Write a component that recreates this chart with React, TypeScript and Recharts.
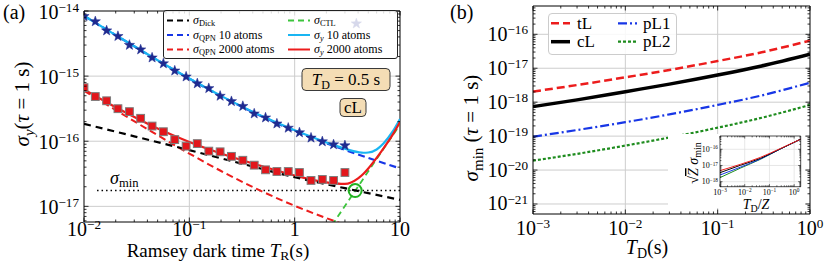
import React from "react";
import {
  ComposedChart,
  Line,
  Scatter,
  XAxis,
  YAxis,
  CartesianGrid,
  ReferenceLine,
  ReferenceDot,
  Legend,
  Customized,
} from "recharts";

const SERIF = '"Liberation Serif", "DejaVu Serif", "Times New Roman", serif';

// ---------------- Panel (a) data ----------------
const dickT = [0.01, 0.03, 0.1, 0.3, 1, 3, 10];
const dickSigma = [1.85e-16, 1.19e-16, 7.3e-17, 4.62e-17, 2.8e-17, 1.9e-17, 1.26e-17];

const qpnT = [0.01, 0.02, 0.05, 0.1, 0.2, 0.5, 1, 2, 3, 5, 10];
const qpn10Sigma = [8.43e-15, 4.26e-15, 1.75e-15, 9.14e-16, 4.94e-16, 2.36e-16, 1.445e-16, 9.33e-17, 7.36e-17, 5.53e-17, 3.82e-17];
const qpn2000Sigma = [5.96e-16, 3.01e-16, 1.237e-16, 6.46e-17, 3.49e-17, 1.67e-17, 1.02e-17, 6.6e-18, 5.2e-18, 3.9e-18, 2.7e-18];

const ctlT = [2, 3, 4, 5, 6, 7, 8.5, 10];
const ctlSigma = [3.85e-18, 1.01e-17, 2.02e-17, 3.45e-17, 5.33e-17, 7.71e-17, 1.22e-16, 1.8e-16];

const syT = [0.01, 0.02, 0.05, 0.1, 0.2, 0.5, 1, 2, 3, 4, 4.5, 5, 6, 7, 8.5, 10];
const sy10Sigma = [8.43e-15, 4.26e-15, 1.753e-15, 9.17e-16, 4.97e-16, 2.39e-16, 1.472e-16, 9.59e-17, 7.67e-17, 6.8e-17, 6.65e-17, 6.71e-17, 7.47e-17, 9.3e-17, 1.4e-16, 2.2e-16];
const sy2000Sigma = [6.24e-16, 3.32e-16, 1.569e-16, 9.75e-17, 6.49e-17, 4.1e-17, 2.98e-17, 2.33e-17, 2.21e-17, 2.69e-17, 3.17e-17, 3.82e-17, 5.55e-17, 7.84e-17, 1.25e-16, 1.97e-16];

const minSigmaT = [0.0133, 10];
const minSigma = [1.75e-17, 1.75e-17];
const crossT = 3.75;
const crossSigma = 1.75e-17;

const measT = [0.01, 0.0128, 0.0164, 0.021, 0.027, 0.0345, 0.0443, 0.0567, 0.0727, 0.0932, 0.119, 0.153, 0.196, 0.251, 0.322, 0.413, 0.529, 0.678, 0.869, 1.11, 1.43, 1.83, 2.34, 3.0, 3.85];
const meas10 = [8.3e-15, 6.9e-15, 5.0e-15, 4.1e-15, 3.0e-15, 2.55e-15, 1.92e-15, 1.56e-15, 1.21e-15, 9.8e-16, 7.7e-16, 6.5e-16, 4.95e-16, 4.1e-16, 3.45e-16, 2.65e-16, 2.3e-16, 1.86e-16, 1.6e-16, 1.36e-16, 1.13e-16, 9.9e-17, 8.9e-17, 8.6e-17, 6.4e-15];
const meas2000 = [6.65e-16, 4.86e-16, 4.18e-16, 3.16e-16, 2.85e-16, 2.25e-16, 1.71e-16, 1.4e-16, 1.06e-16, 8.4e-17, 9.2e-17, 7.05e-17, 6.88e-17, 5.86e-17, 5.1e-17, 4.29e-17, 3.64e-17, 3.43e-17, 3.43e-17, 3.31e-17, 2.5e-17, 2.59e-17, 2.5e-17, 3.31e-17];

// ---------------- Panel (b) data ----------------
const tdT = [0.001, 0.003, 0.01, 0.03, 0.1, 0.3, 1];
const tLSigma = [2.05e-18, 3.2e-18, 5.4e-18, 8.9e-18, 1.63e-17, 2.95e-17, 6.5e-17];
const cLSigma = [7.4e-19, 1.17e-18, 2.04e-18, 3.4e-18, 6.3e-18, 1.17e-17, 2.6e-17];
const pL1Sigma = [9.6e-20, 1.51e-19, 2.57e-19, 4.37e-19, 8.3e-19, 1.58e-18, 3.75e-18];
const pL2Sigma = [1.89e-20, 3.0e-20, 5.25e-20, 9.1e-20, 1.77e-19, 3.47e-19, 8.3e-19];

// inset
const insetT = [0.001, 0.0066, 0.043, 0.28, 1.84];
const insetTL = [4.8e-18, 1.17e-17, 3.16e-17, 1.12e-16, 4.2e-16];
const insetCL = [3.6e-18, 1.02e-17, 2.75e-17, 1.07e-16, 4.2e-16];
const insetPL1 = [2.57e-18, 7.8e-18, 2.5e-17, 1.05e-16, 4.2e-16];
const insetPL2 = [1.78e-18, 6.8e-18, 2.4e-17, 1.05e-16, 4.2e-16];

// ---------------- tick labels ----------------
const xMajorA = [0.01, 0.1, 1, 10];
const xLabelA = ["10^\u22122", "10^\u22121", "1", "10"];
const yMajorA = [1e-17, 1e-16, 1e-15, 1e-14];
const yLabelA = ["10^\u221217", "10^\u221216", "10^\u221215", "10^\u221214"];
const xMajorB = [1e-3, 1e-2, 1e-1, 1];
const xLabelB = ["10^\u22123", "10^\u22122", "10^\u22121", "10^0"];
const yMajorB = [1e-21, 1e-20, 1e-19, 1e-18, 1e-17, 1e-16];
const yLabelB = ["10^\u221221", "10^\u221220", "10^\u221219", "10^\u221218", "10^\u221217", "10^\u221216"];
const yMajorI = [1e-18, 1e-17, 1e-16];
const yLabelI = ["10^\u221218", "10^\u221217", "10^\u221216"];

// ---------------- helpers ----------------
const toPts = (xs: number[], ys: number[]) => xs.map((x, i) => ({ x, y: ys[i] }));

function logTicks(lo: number, hi: number): number[] {
  const out: number[] = [];
  for (let e = Math.floor(Math.log10(lo)) - 1; e <= Math.ceil(Math.log10(hi)); e++) {
    for (let m = 1; m < 10; m++) {
      const v = Number((m * Math.pow(10, e)).toPrecision(6));
      if (v >= lo * 0.9999 && v <= hi * 1.0001) out.push(v);
    }
  }
  return out;
}
const isDecade = (v: number) => Math.abs(Math.log10(v) - Math.round(Math.log10(v))) < 1e-6;
const findLabel = (v: number, majors: number[], labels: string[]) => {
  const i = majors.findIndex((m) => Math.abs(m - v) <= m * 1e-6);
  return i >= 0 ? labels[i] : null;
};

const PowLabel = ({ x, y, text, size, anchor }: any) => {
  const parts = text.split("^");
  return (
    <text x={x} y={y} textAnchor={anchor} fontFamily={SERIF} fontSize={size} fill="#000">
      <tspan>{parts[0]}</tspan>
      {parts.length > 1 && (
        <tspan dy={-size * 0.34} fontSize={size * 0.66}>
          {parts[1]}
        </tspan>
      )}
    </text>
  );
};

type Frame = { left: number; right: number; top: number; bottom: number };

function makeXTick(majors: number[], labels: string[], f: Frame, fs: number, dy: number, maj: number, min: number, sw = 0.8) {
  return (p: any) => {
    const x = p.x;
    const v = p.payload.value;
    const lab = findLabel(v, majors, labels);
    const len = isDecade(v) ? maj : min;
    return (
      <g>
        <line x1={x} x2={x} y1={f.bottom} y2={f.bottom - len} stroke="#000" strokeWidth={sw} />
        <line x1={x} x2={x} y1={f.top} y2={f.top + len} stroke="#000" strokeWidth={sw} />
        {lab && <PowLabel x={x} y={f.bottom + dy} text={lab} size={fs} anchor="middle" />}
      </g>
    );
  };
}

function makeYTick(majors: number[], labels: string[], f: Frame, fs: number, dx: number, dy: number, maj: number, min: number, sw = 0.8) {
  return (p: any) => {
    const y = p.y;
    const v = p.payload.value;
    const lab = findLabel(v, majors, labels);
    const len = isDecade(v) ? maj : min;
    return (
      <g>
        <line x1={f.left} x2={f.left + len} y1={y} y2={y} stroke="#000" strokeWidth={sw} />
        <line x1={f.right} x2={f.right - len} y1={y} y2={y} stroke="#000" strokeWidth={sw} />
        {lab && <PowLabel x={f.left - dx} y={y + dy} text={lab} size={fs} anchor="end" />}
      </g>
    );
  };
}

const starPoints = (cx: number, cy: number, R: number, r: number) => {
  let s = "";
  for (let k = 0; k < 10; k++) {
    const a = ((-90 + k * 36) * Math.PI) / 180;
    const rad = k % 2 === 0 ? R : r;
    s += `${(cx + rad * Math.cos(a)).toFixed(2)},${(cy + rad * Math.sin(a)).toFixed(2)} `;
  }
  return s;
};
const StarShape = (p: any) => <polygon points={starPoints(p.cx, p.cy, 5.4, 2.2)} fill="#1f2a8f" stroke="#1f2a8f" strokeWidth={0.5} />;
const SquareShape = (p: any) => <rect x={p.cx - 3.9} y={p.cy - 3.9} width={7.8} height={7.8} fill="#e3161b" stroke="#7d7d7d" strokeWidth={1} />;

// colors
const RED = "#ec1c1c";
const BLUE = "#1736e6";
const CYAN = "#19b5f2";
const LIME = "#3cc43c";
const GREEN = "#1e8c1e";

// sigma with subscript followed by rest of text
const SigText = ({ x, y, sub, rest, size, italicSub, anchor }: any) => {
  const d = size * 0.18;
  return (
    <text x={x} y={y} fontFamily={SERIF} fontSize={size} fill="#000" textAnchor={anchor || "start"}>
      <tspan fontStyle="italic">σ</tspan>
      <tspan fontSize={size * 0.7} dy={d} fontStyle={italicSub ? "italic" : "normal"}>
        {sub}
      </tspan>
      {rest ? <tspan dy={-d}>{rest}</tspan> : null}
    </text>
  );
};

// ---------------- Panel (a) ----------------
const FA: Frame = { left: 84, right: 400, top: 11, bottom: 222 };
const xTicksA = logTicks(0.01, 10);
const yTicksA = logTicks(5.75e-18, 1e-14);
const xTickA = makeXTick(xMajorA, xLabelA, FA, 20, 13.5, 4.5, 2.5);
const yTickA = makeYTick(yMajorA, yLabelA, FA, 20, 5, 7.5, 4.5, 2.5);

const LegendA = () => {
  const fs = 12;
  const rows = [9.5, 24, 38.5];
  const col1 = [
    { c: "#000", d: "6 4", sub: "Dick", it: false, rest: "" },
    { c: BLUE, d: "6 4", sub: "QPN", it: false, rest: " 10 atoms" },
    { c: RED, d: "6 4", sub: "QPN", it: false, rest: " 2000 atoms" },
  ];
  const col2 = [
    { c: LIME, d: "6 4", sub: "CTL", it: false, rest: "" },
    { c: CYAN, d: "", sub: "y", it: true, rest: " 10 atoms" },
    { c: RED, d: "", sub: "y", it: true, rest: " 2000 atoms" },
  ];
  return (
    <div
      style={{
        width: 235,
        height: 49,
        boxSizing: "border-box",
        background: "rgba(255,255,255,0.82)",
        border: "1px solid #222",
        borderRadius: 3,
      }}
    >
      <svg width={233} height={47} style={{ display: "block" }}>
        {col1.map((e, i) => (
          <g key={"a" + i}>
            <line x1={3} x2={25} y1={rows[i]} y2={rows[i]} stroke={e.c} strokeWidth={2} strokeDasharray={e.d} />
            <SigText x={29} y={rows[i] + 3.5} sub={e.sub} rest={e.rest} size={fs} italicSub={e.it} />
          </g>
        ))}
        {col2.map((e, i) => (
          <g key={"b" + i}>
            <line x1={124} x2={146} y1={rows[i]} y2={rows[i]} stroke={e.c} strokeWidth={2} strokeDasharray={e.d || undefined} />
            <SigText x={150} y={rows[i] + 3.5} sub={e.sub} rest={e.rest} size={fs} italicSub={e.it} />
          </g>
        ))}
      </svg>
    </div>
  );
};

const AnnotA = () => (
  <g fontFamily={SERIF} fill="#000">
    <text x={3} y={19} fontSize={20} fontFamily={SERIF}>
      (a)
    </text>
    <SigText x={110} y={184} sub="min" rest="" size={18} italicSub={false} />
    <rect x={302} y={68.5} width={88} height={22} rx={4} fill="#f4ddb5" stroke="#3a3a3a" strokeWidth={1} />
    <text x={346} y={85} fontSize={17} textAnchor="middle" fontFamily={SERIF}>
      <tspan fontStyle="italic">T</tspan>
      <tspan fontSize={12} dy={4}>D</tspan>
      <tspan dy={-4}>{" = 0.5 s"}</tspan>
    </text>
    <rect x={340} y={98.5} width={26} height={18} rx={4} fill="#f4ddb5" stroke="#3a3a3a" strokeWidth={1} />
    <text x={353} y={113} fontSize={17} textAnchor="middle" fontFamily={SERIF}>
      cL
    </text>
    <text x={218} y={257} fontSize={19} textAnchor="middle" fontFamily={SERIF}>
      <tspan>{"Ramsey dark time "}</tspan>
      <tspan fontStyle="italic">T</tspan>
      <tspan fontSize={13.5} dy={2.5}>R</tspan>
      <tspan dy={-2.5}>(s)</tspan>
    </text>
    <text transform="translate(29,104) rotate(-90)" fontSize={21} textAnchor="middle" fontFamily={SERIF}>
      <tspan fontStyle="italic">σ</tspan>
      <tspan fontSize={15} dy={5} fontStyle="italic">y</tspan>
      <tspan dy={-5}>(</tspan>
      <tspan fontStyle="italic">τ</tspan>
      <tspan>{" = 1 s)"}</tspan>
    </text>
  </g>
);

function PanelA() {
  return (
    <ComposedChart width={410} height={261} margin={{ top: 11, right: 10, bottom: 9, left: 24 }}>
      <CartesianGrid
        horizontalValues={[1e-17, 1e-16, 1e-15]}
        verticalValues={[0.1, 1]}
        stroke="#cdcdcd"
        strokeWidth={1}
      />
      <XAxis
        type="number"
        dataKey="x"
        scale="log"
        domain={[0.01, 10]}
        allowDataOverflow
        ticks={xTicksA}
        interval={0}
        height={30}
        tickLine={false}
        tickSize={0}
        tickMargin={0}
        axisLine={{ stroke: "#000", strokeWidth: 1 }}
        tick={xTickA}
      />
      <YAxis
        type="number"
        dataKey="y"
        scale="log"
        domain={[5.75e-18, 1e-14]}
        allowDataOverflow
        ticks={yTicksA}
        interval={0}
        width={60}
        tickLine={false}
        tickSize={0}
        tickMargin={0}
        axisLine={{ stroke: "#000", strokeWidth: 1 }}
        tick={yTickA}
      />
      <ReferenceLine y={1e-14} stroke="#000" strokeWidth={1} ifOverflow="visible" />
      <ReferenceLine x={10} stroke="#000" strokeWidth={1} ifOverflow="visible" />
      <Line data={toPts(minSigmaT, minSigma)} dataKey="y" type="linear" stroke="#000" strokeWidth={1.5} strokeDasharray="1.5 3" dot={false} isAnimationActive={false} />
      <Line data={toPts(qpnT, qpn10Sigma)} dataKey="y" type="monotone" stroke={BLUE} strokeWidth={2.2} strokeDasharray="7 4" dot={false} isAnimationActive={false} />
      <Line data={toPts(qpnT, qpn2000Sigma)} dataKey="y" type="monotone" stroke={RED} strokeWidth={2} strokeDasharray="7 4" dot={false} isAnimationActive={false} />
      <Line data={toPts(ctlT, ctlSigma)} dataKey="y" type="monotone" stroke={LIME} strokeWidth={1.8} strokeDasharray="6 4" dot={false} isAnimationActive={false} />
      <Line data={toPts(syT, sy10Sigma)} dataKey="y" type="monotone" stroke={CYAN} strokeWidth={2.2} dot={false} isAnimationActive={false} />
      <Line data={toPts(syT, sy2000Sigma)} dataKey="y" type="monotone" stroke={RED} strokeWidth={2.2} dot={false} isAnimationActive={false} />
      <Line data={toPts(dickT, dickSigma)} dataKey="y" type="monotone" stroke="#000" strokeWidth={2.2} strokeDasharray="7 5" dot={false} isAnimationActive={false} />
      <Scatter data={toPts(measT, meas10)} dataKey="y" shape={StarShape} isAnimationActive={false} />
      <Scatter data={toPts(measT.slice(0, meas2000.length), meas2000)} dataKey="y" shape={SquareShape} isAnimationActive={false} />
      <ReferenceDot x={crossT} y={crossSigma} r={6.5} fill="none" stroke="#22b322" strokeWidth={2} />
      <Customized component={AnnotA} />
      <Legend
        content={() => <LegendA />}
        layout="horizontal"
        verticalAlign="middle"
        align="center"
        wrapperStyle={{ left: 163, top: 10, width: 235, height: 49 }}
      />
    </ComposedChart>
  );
}

// ---------------- Panel (b) ----------------
const FB: Frame = { left: 123, right: 400, top: 6, bottom: 214 };
const yDomB: [number, number] = [5.07e-22, 6.82e-16];
const xTicksB = logTicks(1e-3, 1);
const yTicksB = logTicks(yDomB[0], yDomB[1]);
const xTickB = makeXTick(xMajorB, xLabelB, FB, 20, 21, 4.5, 2.5);
const yTickB = makeYTick(yMajorB, yLabelB, FB, 20, 5, 6.5, 4.5, 2.5);

const LegendB = () => {
  const fs = 17;
  const rows = [9.3, 27.7];
  const items = [
    { c: RED, d: "8 4", w: 2.5, t: "tL", lx: 2, tx: 28, r: 0 },
    { c: "#000", d: "", w: 3.5, t: "cL", lx: 2, tx: 28, r: 1 },
    { c: BLUE, d: "9 3 2 3", w: 2.2, t: "pL1", lx: 69, tx: 94, r: 0 },
    { c: GREEN, d: "3 2", w: 2.2, t: "pL2", lx: 69, tx: 94, r: 1 },
  ];
  return (
    <div
      style={{
        width: 129,
        height: 42,
        boxSizing: "border-box",
        background: "rgba(255,255,255,0.85)",
        border: "1px solid #cccccc",
        borderRadius: 4,
      }}
    >
      <svg width={127} height={40} style={{ display: "block" }}>
        {items.map((e, i) => (
          <g key={i}>
            <line x1={e.lx} x2={e.lx + 19} y1={rows[e.r]} y2={rows[e.r]} stroke={e.c} strokeWidth={e.w} strokeDasharray={e.d || undefined} />
            <text x={e.tx} y={rows[e.r] + 5.5} fontFamily={SERIF} fontSize={fs} fill="#000">
              {e.t}
            </text>
          </g>
        ))}
      </svg>
    </div>
  );
};

const AnnotB = () => (
  <g fontFamily={SERIF} fill="#000">
    <text x={40} y={19} fontSize={20} fontFamily={SERIF}>
      (b)
    </text>
    <text x={237} y={254} fontSize={20} textAnchor="middle" fontFamily={SERIF}>
      <tspan fontStyle="italic">T</tspan>
      <tspan fontSize={14} dy={4}>D</tspan>
      <tspan dy={-4}>(s)</tspan>
    </text>
    <text transform="translate(68,128) rotate(-90)" fontSize={21} textAnchor="middle" fontFamily={SERIF}>
      <tspan fontStyle="italic">σ</tspan>
      <tspan fontSize={15} dy={5}>min</tspan>
      <tspan dy={-5}>{" ("}</tspan>
      <tspan fontStyle="italic">τ</tspan>
      <tspan>{" = 1 s)"}</tspan>
    </text>
  </g>
);

function PanelB() {
  return (
    <ComposedChart width={420} height={261} margin={{ top: 6, right: 20, bottom: 17, left: 48 }}>
      <CartesianGrid
        horizontalValues={[1e-21, 1e-20, 1e-19, 1e-18, 1e-17, 1e-16]}
        verticalValues={[1e-2, 1e-1]}
        stroke="#cdcdcd"
        strokeWidth={1}
      />
      <XAxis
        type="number"
        dataKey="x"
        scale="log"
        domain={[1e-3, 1]}
        allowDataOverflow
        ticks={xTicksB}
        interval={0}
        height={30}
        tickLine={false}
        tickSize={0}
        tickMargin={0}
        axisLine={{ stroke: "#000", strokeWidth: 1 }}
        tick={xTickB}
      />
      <YAxis
        type="number"
        dataKey="y"
        scale="log"
        domain={yDomB}
        allowDataOverflow
        ticks={yTicksB}
        interval={0}
        width={75}
        tickLine={false}
        tickSize={0}
        tickMargin={0}
        axisLine={{ stroke: "#000", strokeWidth: 1 }}
        tick={yTickB}
      />
      <ReferenceLine y={yDomB[1]} stroke="#000" strokeWidth={1} ifOverflow="visible" />
      <ReferenceLine x={1} stroke="#000" strokeWidth={1} ifOverflow="visible" />
      <Line data={toPts(tdT, tLSigma)} dataKey="y" type="monotone" stroke={RED} strokeWidth={2.5} strokeDasharray="8 4" dot={false} isAnimationActive={false} />
      <Line data={toPts(tdT, cLSigma)} dataKey="y" type="monotone" stroke="#000" strokeWidth={3.5} dot={false} isAnimationActive={false} />
      <Line data={toPts(tdT, pL1Sigma)} dataKey="y" type="monotone" stroke={BLUE} strokeWidth={2.2} strokeDasharray="9 3 2 3" dot={false} isAnimationActive={false} />
      <Line data={toPts(tdT, pL2Sigma)} dataKey="y" type="monotone" stroke={GREEN} strokeWidth={2.2} strokeDasharray="3 2" dot={false} isAnimationActive={false} />
      <Customized component={AnnotB} />
      <Legend
        content={() => <LegendB />}
        layout="horizontal"
        verticalAlign="middle"
        align="center"
        wrapperStyle={{ left: 138, top: 13, width: 129, height: 42 }}
      />
    </ComposedChart>
  );
}

// ---------------- Inset ----------------
const FI: Frame = { left: 52, right: 132.7, top: 10, bottom: 60.7 };
const xDomI: [number, number] = [1e-3, 1.84];
const yDomI: [number, number] = [4.9e-19, 6.6e-16];
const xTicksI = logTicks(xDomI[0], xDomI[1]);
const yTicksI = logTicks(yDomI[0], yDomI[1]);
const xTickI = makeXTick(xMajorB, xLabelB, FI, 8, 8.5, 2.5, 1.4, 0.6);
const yTickI = makeYTick(yMajorI, yLabelI, FI, 8, 2, 2.8, 2.5, 1.4, 0.6);

const AnnotI = () => (
  <g fontFamily={SERIF} fill="#000">
    <text x={88} y={83} fontSize={14} textAnchor="middle" fontFamily={SERIF}>
      <tspan fontStyle="italic">T</tspan>
      <tspan fontSize={10} dy={3}>D</tspan>
      <tspan dy={-3}>/</tspan>
      <tspan fontStyle="italic">Z</tspan>
    </text>
    <text transform="translate(30,37) rotate(-90)" fontSize={14} textAnchor="middle" fontFamily={SERIF}>
      <tspan>√</tspan>
      <tspan fontStyle="italic" textDecoration="overline">Z</tspan>
      <tspan fontStyle="italic">{" σ"}</tspan>
      <tspan fontSize={10} dy={3}>min</tspan>
    </text>
  </g>
);

function Inset() {
  return (
    <ComposedChart width={142} height={90} margin={{ top: 10, right: 9.3, bottom: 14.3, left: 5 }}>
      <CartesianGrid horizontalValues={[1e-18, 1e-17, 1e-16]} verticalValues={[1e-2, 1e-1, 1]} stroke="#dddddd" strokeWidth={0.7} />
      <XAxis
        type="number"
        dataKey="x"
        scale="log"
        domain={xDomI}
        allowDataOverflow
        ticks={xTicksI}
        interval={0}
        height={15}
        tickLine={false}
        tickSize={0}
        tickMargin={0}
        axisLine={{ stroke: "#000", strokeWidth: 0.7 }}
        tick={xTickI}
      />
      <YAxis
        type="number"
        dataKey="y"
        scale="log"
        domain={yDomI}
        allowDataOverflow
        ticks={yTicksI}
        interval={0}
        width={47}
        tickLine={false}
        tickSize={0}
        tickMargin={0}
        axisLine={{ stroke: "#000", strokeWidth: 0.7 }}
        tick={yTickI}
      />
      <ReferenceLine y={yDomI[1]} stroke="#000" strokeWidth={0.7} ifOverflow="visible" />
      <ReferenceLine x={xDomI[1]} stroke="#000" strokeWidth={0.7} ifOverflow="visible" />
      <Line data={toPts(insetT, insetPL2)} dataKey="y" type="monotone" stroke={GREEN} strokeWidth={1} dot={false} isAnimationActive={false} />
      <Line data={toPts(insetT, insetPL1)} dataKey="y" type="monotone" stroke={BLUE} strokeWidth={1} dot={false} isAnimationActive={false} />
      <Line data={toPts(insetT, insetCL)} dataKey="y" type="monotone" stroke="#000" strokeWidth={1} dot={false} isAnimationActive={false} />
      <Line data={toPts(insetT, insetTL)} dataKey="y" type="monotone" stroke={RED} strokeWidth={1} dot={false} isAnimationActive={false} />
      <Customized component={AnnotI} />
    </ComposedChart>
  );
}

export default function App() {
  return (
    <div style={{ position: "absolute", left: 0, top: 0, width: 830, height: 261, background: "#fff", fontFamily: SERIF }}>
      <div style={{ position: "absolute", left: 0, top: 0 }}>
        <PanelA />
      </div>
      <div style={{ position: "absolute", left: 410, top: 0 }}>
        <PanelB />
      </div>
      <div style={{ position: "absolute", left: 668, top: 134, width: 137, height: 74, background: "#fff" }} />
      <div style={{ position: "absolute", left: 668, top: 126 }}>
        <Inset />
      </div>
    </div>
  );
}
